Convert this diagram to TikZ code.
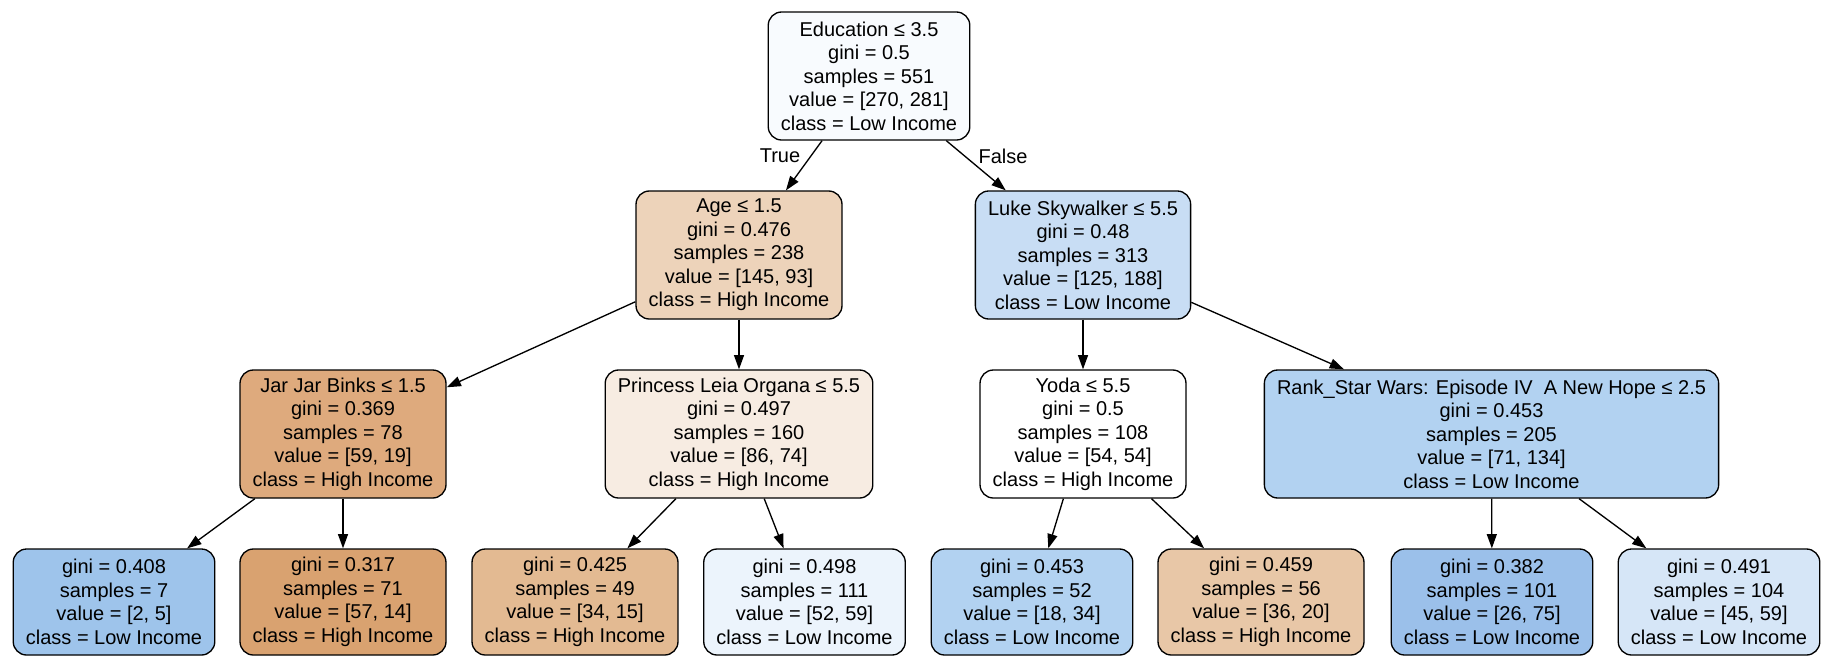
\documentclass[tikz,border=0pt]{standalone}
\usepackage{fontspec}
\setmainfont{Liberation Sans}
\usetikzlibrary{arrows.meta}

\definecolor{rootfill}{RGB}{248,251,254}
\definecolor{agefill}{RGB}{237,211,186}
\definecolor{lukefill}{RGB}{200,221,244}
\definecolor{jarfill}{RGB}{222,170,125}
\definecolor{leiafill}{RGB}{247,236,226}
\definecolor{yodafill}{RGB}{255,255,255}
\definecolor{rankfill}{RGB}{178,210,241}
\definecolor{leafafill}{RGB}{158,196,235}
\definecolor{leafbfill}{RGB}{217,162,112}
\definecolor{leafcfill}{RGB}{227,186,146}
\definecolor{leafdfill}{RGB}{236,244,252}
\definecolor{leafefill}{RGB}{178,210,241}
\definecolor{leafffill}{RGB}{232,199,167}
\definecolor{leafgfill}{RGB}{155,192,234}
\definecolor{leafhfill}{RGB}{214,230,247}

\begin{document}
\begin{tikzpicture}[x=0.75pt, y=-0.75pt,
    treenode/.style={draw=black, line width=1pt, rounded corners=10pt, align=center,
      inner xsep=9.5pt, font=\fontsize{15}{17.6}\selectfont},
    splitnode/.style={treenode, minimum height=96pt},
    leafnode/.style={treenode, minimum height=79.5pt},
    edgelbl/.style={font=\fontsize{15}{17.6}\selectfont, inner sep=0pt},
    arr/.style={-{Triangle[length=10.7pt, width=7.5pt]}, line width=1pt}]
    \useasboundingbox (0,0) rectangle (1844,665);

    % wurzel
    \node[splitnode, fill=rootfill] (root) at (869,76)
      {Education ≤ 3.5\\gini = 0.5\\samples = 551\\value = [270, 281]\\class = Low Income};

    % erste ebene
    \node[splitnode, fill=agefill] (age) at (739,255)
      {Age ≤ 1.5\\gini = 0.476\\samples = 238\\value = [145, 93]\\class = High Income};
    \node[splitnode, fill=lukefill] (luke) at (1083,255)
      {Luke Skywalker ≤ 5.5\\gini = 0.48\\samples = 313\\value = [125, 188]\\class = Low Income};

    % zweite ebene
    \node[splitnode, fill=jarfill] (jarjar) at (343,434)
      {Jar Jar Binks ≤ 1.5\\gini = 0.369\\samples = 78\\value = [59, 19]\\class = High Income};
    \node[splitnode, fill=leiafill] (leia) at (739,434)
      {Princess Leia Organa ≤ 5.5\\gini = 0.497\\samples = 160\\value = [86, 74]\\class = High Income};
    \node[splitnode, fill=yodafill] (yoda) at (1083,434)
      {Yoda ≤ 5.5\\gini = 0.5\\samples = 108\\value = [54, 54]\\class = High Income};
    \node[splitnode, fill=rankfill] (rank) at (1491.5,434)
      {Rank\_Star Wars: Episode IV\ \ A New Hope ≤ 2.5\\gini = 0.453\\samples = 205\\value = [71, 134]\\class = Low Income};

    % blaetter
    \node[leafnode, fill=leafafill] (leafa) at (114,602)
      {gini = 0.408\\samples = 7\\value = [2, 5]\\class = Low Income};
    \node[leafnode, fill=leafbfill] (leafb) at (343,602)
      {gini = 0.317\\samples = 71\\value = [57, 14]\\class = High Income};
    \node[leafnode, fill=leafcfill] (leafc) at (575,602)
      {gini = 0.425\\samples = 49\\value = [34, 15]\\class = High Income};
    \node[leafnode, fill=leafdfill] (leafd) at (804.5,602)
      {gini = 0.498\\samples = 111\\value = [52, 59]\\class = Low Income};
    \node[leafnode, fill=leafefill] (leafe) at (1032,602)
      {gini = 0.453\\samples = 52\\value = [18, 34]\\class = Low Income};
    \node[leafnode, fill=leafffill] (leaff) at (1261,602)
      {gini = 0.459\\samples = 56\\value = [36, 20]\\class = High Income};
    \node[leafnode, fill=leafgfill] (leafg) at (1492,602)
      {gini = 0.382\\samples = 101\\value = [26, 75]\\class = Low Income};
    \node[leafnode, fill=leafhfill] (leafh) at (1719,602)
      {gini = 0.491\\samples = 104\\value = [45, 59]\\class = Low Income};

    % kanten
    \draw[arr] (root) -- (age);
    \draw[arr] (root) -- (luke);
    \draw[arr] (age) -- (jarjar);
    \draw[arr] (age) -- (leia);
    \draw[arr] (luke) -- (yoda);
    \draw[arr] (luke) -- (rank);
    \draw[arr] (jarjar) -- (leafa);
    \draw[arr] (jarjar) -- (leafb);
    \draw[arr] (leia) -- (leafc);
    \draw[arr] (leia) -- (leafd);
    \draw[arr] (yoda) -- (leafe);
    \draw[arr] (yoda) -- (leaff);
    \draw[arr] (rank) -- (leafg);
    \draw[arr] (rank) -- (leafh);

    \node[edgelbl] (truelbl) at (780,156) {True};
    \node[edgelbl] (falselbl) at (1003,156) {False};
  \end{tikzpicture}
\end{document}
